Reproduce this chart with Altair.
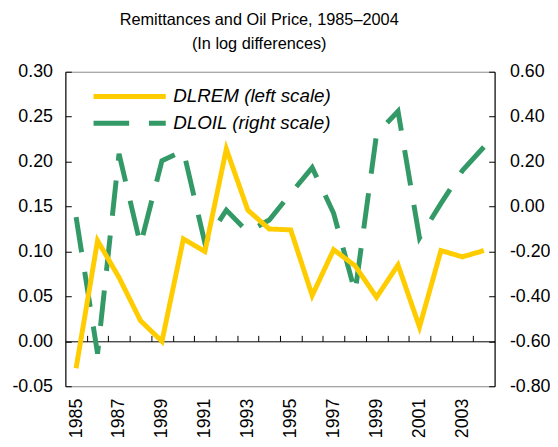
import altair as alt
import pandas as pd

years = list(range(1985, 2005))
dlrem = [-0.030, 0.112, 0.071, 0.023, 0.000, 0.114, 0.100, 0.214, 0.146, 0.125,
         0.124, 0.051, 0.102, 0.084, 0.049, 0.085, 0.016, 0.101, 0.094, 0.101]
dloil = [-0.047, -0.655, 0.235, -0.171, 0.204, 0.248, -0.162, -0.016, -0.113, -0.060,
         0.058, 0.173, -0.030, -0.382, 0.323, 0.424, -0.140, 0.014, 0.160, 0.265]

REM = "DLREM (left scale)"
OIL = "DLOIL (right scale)"
left_ticks = [-0.05, 0.00, 0.05, 0.10, 0.15, 0.20, 0.25, 0.30]
right_ticks = [-0.80, -0.60, -0.40, -0.20, 0.00, 0.20, 0.40, 0.60]
year_labels = years[0:-1:2]
boundaries = [y + 0.5 for y in years[:-1]]

YELLOW = "#FFCC00"
GREEN = "#339966"
FONT = "Liberation Sans"

W, H = 434, 318
zero_offset = -H * 0.05 / 0.35

df_rem = pd.DataFrame({"year": years, "value": dlrem, "series": REM})
df_oil = pd.DataFrame({"year": years, "value": dloil, "series": OIL})

xscale = alt.Scale(domain=[1984.5, 2004.5], nice=False, zero=False)


def make_legend():
    return alt.Legend(title=None, orient="none", legendX=26, legendY=14,
                      direction="vertical", symbolType="stroke",
                      symbolSize=5329, symbolStrokeWidth=5, clipHeight=22,
                      labelFontSize=19, labelFontStyle="italic",
                      labelFont=FONT, labelColor="black", labelOffset=5,
                      rowPadding=5, padding=0, labelLimit=300)


color = alt.Color("series:N", scale=alt.Scale(domain=[REM, OIL], range=[YELLOW, GREEN]),
                  legend=make_legend())
dash = alt.StrokeDash("series:N", scale=alt.Scale(domain=[REM, OIL], range=[[1, 0], [36, 20]]),
                      legend=make_legend())

minus_fix = "replace(datum.label, '\u2212', '-')"

rem = alt.Chart(df_rem).mark_line(strokeWidth=5).encode(
    x=alt.X("year:Q", scale=xscale,
            axis=alt.Axis(orient="bottom", values=year_labels, format="d", labelAngle=-90,
                          ticks=False, domain=False, grid=False, labelPadding=12,
                          labelFontSize=18, labelFont=FONT, labelColor="black", title=None)),
    y=alt.Y("value:Q", scale=alt.Scale(domain=[-0.05, 0.30], nice=False, zero=False),
            axis=alt.Axis(orient="left", values=left_ticks, format=".2f", labelExpr=minus_fix,
                          grid=False, tickSize={"expr": "-6"}, labelPadding=19,
                          labelFontSize=18, labelFont=FONT, labelColor="black",
                          domainColor="black", tickColor="black", title=None)),
    color=color,
    strokeDash=dash,
)

oil = alt.Chart(df_oil).mark_line(strokeWidth=5).encode(
    x=alt.X("year:Q", scale=xscale,
            axis=alt.Axis(orient="bottom", values=boundaries, labels=False, grid=False,
                          domain=True, domainColor="black", tickColor="black",
                          tickSize={"expr": "-6"}, offset=zero_offset, title=None)),
    y=alt.Y("value:Q", scale=alt.Scale(domain=[-0.80, 0.60], nice=False, zero=False),
            axis=alt.Axis(orient="right", values=right_ticks, format=".2f", labelExpr=minus_fix,
                          grid=False, tickSize={"expr": "-6"}, labelPadding=21,
                          labelFontSize=18, labelFont=FONT, labelColor="black",
                          domainColor="black", tickColor="black", title=None)),
    color=color,
    strokeDash=dash,
)

chart = alt.layer(oil, rem).resolve_scale(y="independent").resolve_axis(
    x="independent", y="independent"
).properties(
    width=W, height=H,
    autosize=alt.AutoSizeParams(type="none"),
    padding={"left": 58, "top": 62, "right": 56, "bottom": 59},
    title=alt.TitleParams(text=["Remittances and Oil Price, 1985\u20132004", "(In log differences)"],
                          fontSize=16.5, font=FONT, fontWeight="normal", anchor="middle",
                          lineHeight=25, offset=10, dx=-21, color="black"),
).configure_view(stroke="#888888", strokeWidth=1)

chart.save("out.html", embed_options={"renderer": "svg", "actions": False})
